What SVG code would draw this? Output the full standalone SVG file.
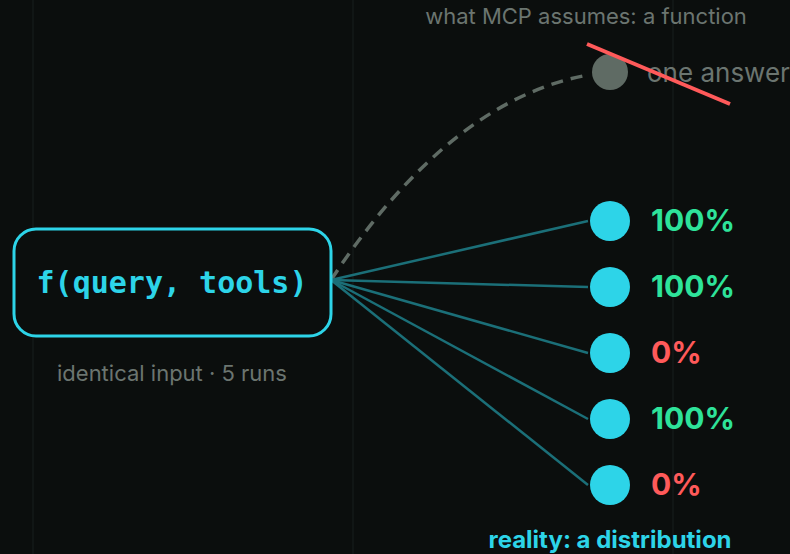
<svg xmlns="http://www.w3.org/2000/svg" width="790" height="554" viewBox="0 0 790 554">
<style>
.grid{stroke:#111615;stroke-width:2}
.ray{stroke:#1b6f78;stroke-width:2.5;fill:none}
.out{fill:#2dd4e8}
.pct{font-family:Inter,"Liberation Sans",sans-serif;font-weight:700;font-size:30px}
.ok{fill:#2ee39a}
.bad{fill:#ff5a5a}
.muted{font-family:Inter,"Liberation Sans",sans-serif;fill:#6b7570}
</style>
<rect width="790" height="554" fill="#0b0e0d"/>
<g id="grid">
<line class="grid" x1="33" y1="0" x2="33" y2="554"/>
<line class="grid" x1="353" y1="0" x2="353" y2="554"/>
<line class="grid" x1="673" y1="0" x2="673" y2="554"/>
</g>
<g id="connectors">
<path d="M331 280 Q450 100 588 75" stroke="#5f6b64" stroke-width="3.5" fill="none" stroke-dasharray="12 8"/>
<line class="ray" x1="331" y1="280" x2="588" y2="221"/>
<line class="ray" x1="331" y1="280" x2="588" y2="287"/>
<line class="ray" x1="331" y1="280" x2="588" y2="353"/>
<line class="ray" x1="331" y1="280" x2="588" y2="419"/>
<line class="ray" x1="331" y1="280" x2="588" y2="485"/>
</g>
<g id="func">
<rect x="14" y="229" width="317" height="107" rx="22" fill="#0b0e0d" stroke="#2dd4e8" stroke-width="3"/>
<text x="172" y="293" text-anchor="middle" font-family="'DejaVu Sans Mono','Liberation Mono',monospace" font-weight="700" font-size="30" fill="#2dd4e8">f(query, tools)</text>
<text class="muted" x="172" y="381" text-anchor="middle" font-size="22">identical input · 5 runs</text>
</g>
<g id="assumed">
<text class="muted" x="586" y="24" text-anchor="middle" font-size="22">what MCP assumes: a function</text>
<circle cx="610" cy="72" r="18" fill="#5f6b64"/>
<text class="muted" x="647" y="82" font-size="26">one answer</text>
<line x1="587" y1="44" x2="730" y2="104" stroke="#ff5a5a" stroke-width="4"/>
</g>
<g id="run1"><circle class="out" cx="610" cy="221" r="20"/><text class="pct ok" x="651" y="231">100%</text></g>
<g id="run2"><circle class="out" cx="610" cy="287" r="20"/><text class="pct ok" x="651" y="297">100%</text></g>
<g id="run3"><circle class="out" cx="610" cy="353" r="20"/><text class="pct bad" x="651" y="363">0%</text></g>
<g id="run4"><circle class="out" cx="610" cy="419" r="20"/><text class="pct ok" x="651" y="429">100%</text></g>
<g id="run5"><circle class="out" cx="610" cy="485" r="20"/><text class="pct bad" x="651" y="495">0%</text></g>
<text x="610" y="548" text-anchor="middle" font-family="Inter,'Liberation Sans',sans-serif" font-weight="700" font-size="24" fill="#2dd4e8">reality: a distribution</text>
</svg>
